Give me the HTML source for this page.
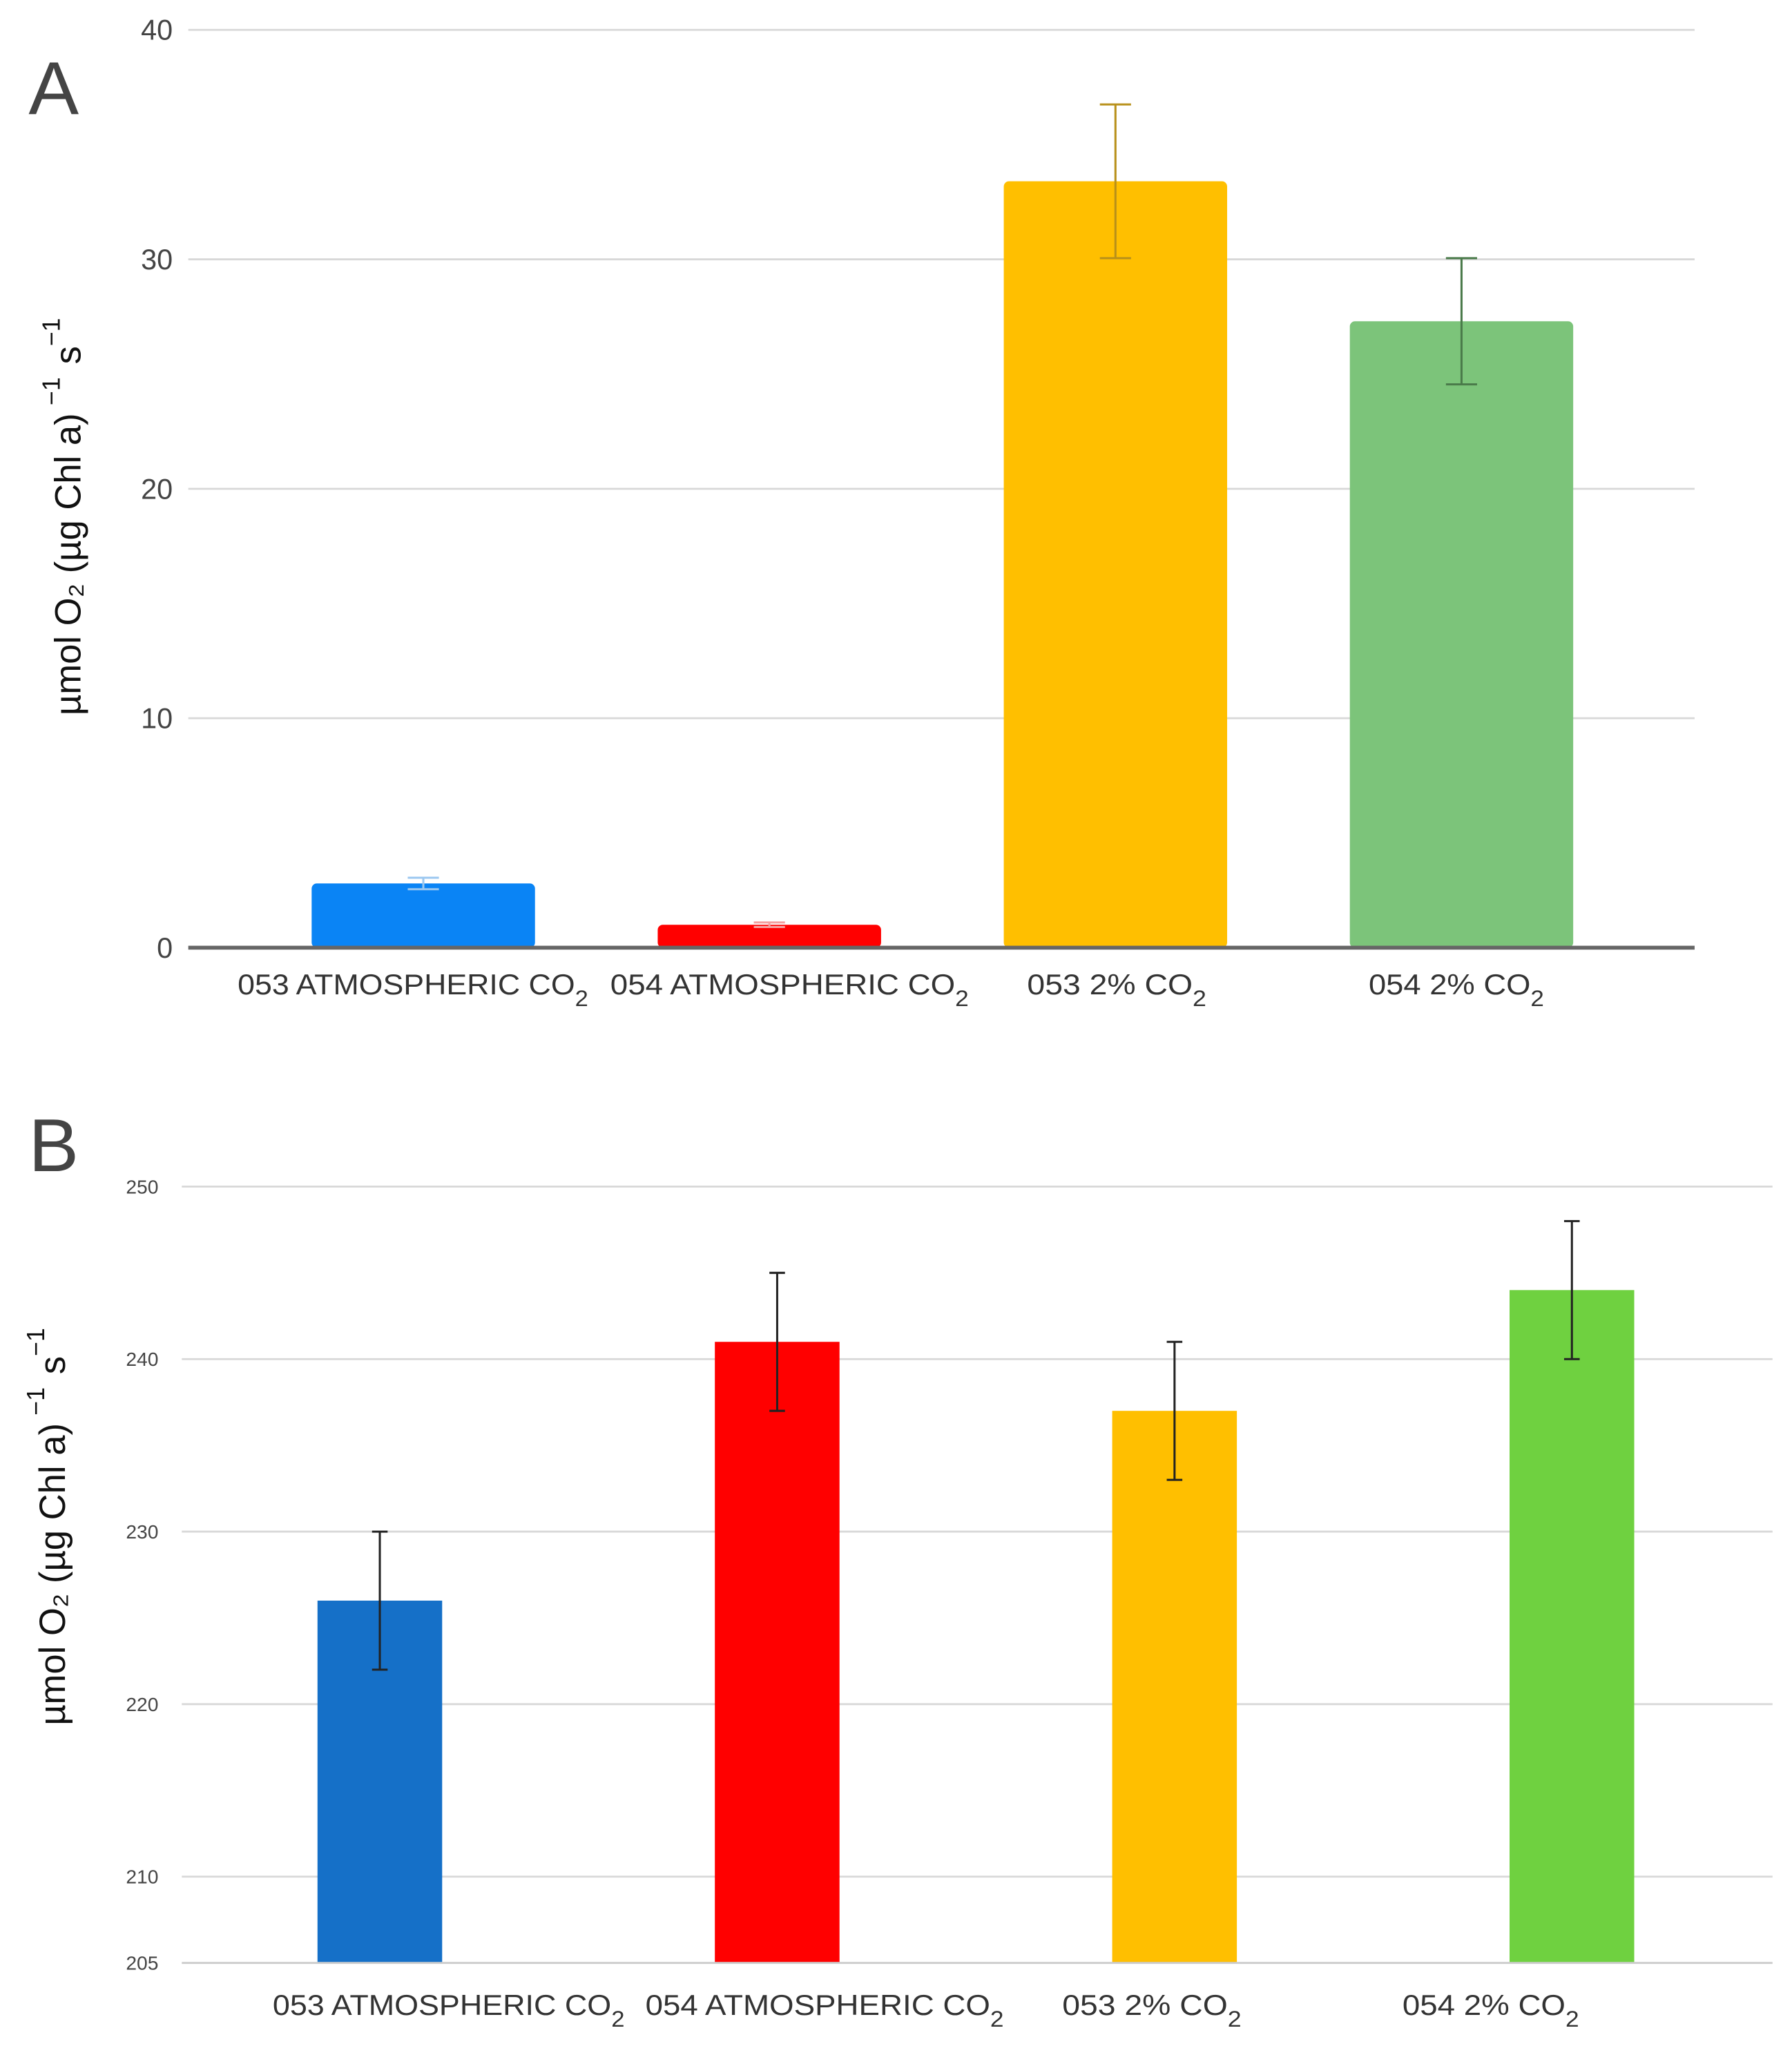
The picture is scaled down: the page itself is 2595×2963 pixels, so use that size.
<!DOCTYPE html>
<html><head><meta charset="utf-8"><style>
html,body{margin:0;padding:0;background:#fff;}
svg{display:block;}
text{font-family:"Liberation Sans",Arial,sans-serif;}
</style></head><body>
<svg id="fig" width="2595" height="2963" viewBox="0 0 1380 1576" preserveAspectRatio="none" xmlns="http://www.w3.org/2000/svg">
<g id="chartA"></g>
<g id="chartB"></g>
</svg>
<script>
const categories = ["053 ATMOSPHERIC CO", "054 ATMOSPHERIC  CO", "053 2%  CO", "054 2% CO"];
const valuesA = [2.8, 1.0, 33.4, 27.3];
const errorsA = [0.25, 0.1, 3.35, 2.75];
const ticksA = [0, 10, 20, 30, 40];
const valuesB = [226, 241, 237, 244];
const errorsB = [4, 4, 4, 4];
const ticksB = [205, 210, 220, 230, 240, 250];

const NS = "http://www.w3.org/2000/svg";
function mk(parent, tag, attrs, txt) {
  const e = document.createElementNS(NS, tag);
  for (const k in attrs) e.setAttribute(k, attrs[k]);
  if (txt !== undefined) e.textContent = txt;
  parent.appendChild(e);
  return e;
}

function drawChart(cfg) {
  const g = document.getElementById(cfg.id);
  const y = v => cfg.y0 - (v - cfg.vmin) / (cfg.vmax - cfg.vmin) * (cfg.y0 - cfg.y1);
  const xc = i => cfg.c0 + cfg.step * i;
  const L = mk(g, "text", {x: 22, y: cfg.letterY, "font-size": 58, fill: "#444"}, cfg.letter);
  
  
  cfg.ticks.forEach(t => {
    if (t !== cfg.vmin) {
      const gl = mk(g, "line", {x1: cfg.x0, x2: cfg.x1, y1: y(t), y2: y(t), stroke: "#d8d8d8", "stroke-width": 1.5});
      
      
    }
    const tl = mk(g, "text", {x: cfg.tickX, y: y(t) + cfg.tickFs * 0.35, "font-size": cfg.tickFs, fill: "#444", "text-anchor": "end"}, String(t));
    
    
  });
  categories.forEach((c, i) => {
    const v = cfg.values[i], e = cfg.errors[i];
    const bx = xc(i) - cfg.bw / 2;
    const r = mk(g, "rect", {x: bx, y: y(v), width: cfg.bw, height: cfg.y0 - y(v), fill: cfg.colors[i], rx: cfg.rx});
    
    
    const eg = mk(g, "g", {stroke: cfg.errColors[i], "stroke-width": 1.6});
    
    
    mk(eg, "line", {x1: xc(i), x2: xc(i), y1: y(v + e), y2: y(v - e)});
    mk(eg, "line", {x1: xc(i) - cfg.cap, x2: xc(i) + cfg.cap, y1: y(v + e), y2: y(v + e)});
    mk(eg, "line", {x1: xc(i) - cfg.cap, x2: xc(i) + cfg.cap, y1: y(v - e), y2: y(v - e)});
    const lab = mk(g, "text", {x: cfg.labelX[i], y: cfg.labelY, "font-size": 22, fill: "#333", textLength: cfg.labelW[i], lengthAdjust: "spacingAndGlyphs"});
    
    
    mk(lab, "tspan", {}, c);
    mk(lab, "tspan", {dy: 9, "font-size": 17}, "2");
  });
  const ax = mk(g, "line", {x1: cfg.x0, x2: cfg.x1, y1: cfg.y0, y2: cfg.y0, stroke: cfg.axisColor, "stroke-width": cfg.axisW});
  
  
  const yt = mk(g, "text", {transform: "translate(" + cfg.titleX + "," + cfg.titleY + ") rotate(-90)", "font-size": 28, fill: "#111", "text-anchor": "middle"});
  
  
  mk(yt, "tspan", {}, "µmol O₂ (µg Chl a)");
  mk(yt, "tspan", {dy: -16, dx: 6, "font-size": 19}, "−1");
  mk(yt, "tspan", {dy: 16, dx: 10}, "s");
  mk(yt, "tspan", {dy: -16, "font-size": 19}, "−1");
}

drawChart({id: "chartA", letter: "A", letterY: 88, values: valuesA, errors: errorsA, ticks: ticksA,
  vmin: 0, vmax: 40, y0: 730, y1: 23, x0: 145, x1: 1305, c0: 326, step: 266.5, bw: 172, rx: 4, cap: 12,
  tickX: 133, tickFs: 22, labelY: 766,
  labelX: [183, 470, 791, 1054], labelW: [270, 276, 138, 135],
  colors: ["#0a84f5", "#ff0000", "#ffbf00", "#7cc47a"],
  errColors: ["#9cc8f0", "#f4a0a0", "#b8901a", "#4a7a4a"],
  axisColor: "#666", axisW: 3, titleX: 62, titleY: 398});
drawChart({id: "chartB", letter: "B", letterY: 902, values: valuesB, errors: errorsB, ticks: ticksB,
  vmin: 205, vmax: 250, y0: 1512, y1: 914, x0: 140, x1: 1365, c0: 292.5, step: 306, bw: 96, rx: 0, cap: 6,
  tickX: 122, tickFs: 15, labelY: 1552,
  labelX: [210, 497, 818, 1080], labelW: [271, 276, 138, 136],
  colors: ["#1570c8", "#ff0000", "#ffbf00", "#6fd140"],
  errColors: ["#222", "#222", "#222", "#222"],
  axisColor: "#ccc", axisW: 1.5, titleX: 50, titleY: 1176});
</script>
</body></html>
